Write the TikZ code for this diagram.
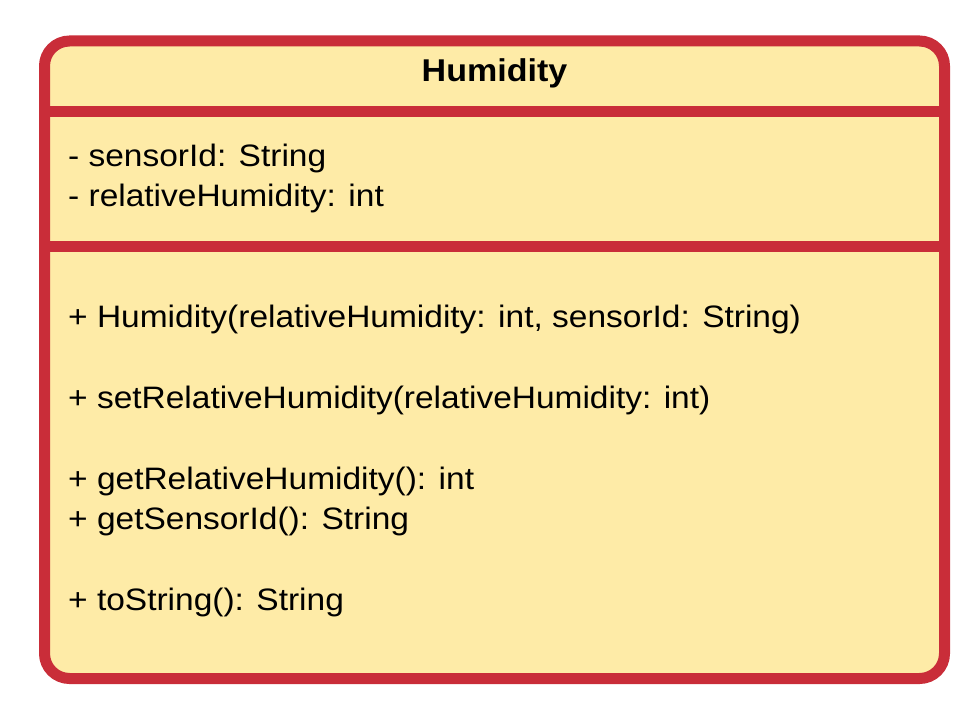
\documentclass[tikz,border=0pt]{standalone}
\usepackage{fontspec}
\setmainfont{Liberation Sans}[FakeStretch=1.08]
\definecolor{umlred}{HTML}{C92D39}
\definecolor{umlfill}{HTML}{FEEBA7}
\tikzset{
    classbox/.style={draw=umlred, fill=umlfill, line width=11pt,
        rounded corners=25pt},
    divider/.style={draw=umlred, line width=11pt},
    member/.style={anchor=base west, inner sep=0pt,
        font=\fontsize{31}{36}\selectfont},
    classname/.style={anchor=base, inner sep=0pt,
        font=\fontsize{31.5}{36}\selectfont\bfseries},
}
\begin{document}
\begin{tikzpicture}[x=1pt, y=-1pt]
    \useasboundingbox (0, 0) rectangle (977, 711);

    % class frame
    \draw[classbox] (44.5, 41) rectangle (944.5, 678.5);
    \coordinate (hl) at (44.5, 112);
    \coordinate (hr) at (944.5, 112);
    \coordinate (al) at (44.5, 247);
    \coordinate (ar) at (944.5, 247);
    \draw[divider] (hl) -- (hr);
    \draw[divider] (al) -- (ar);

    % name
    \node[classname] (name) at (494.5, 81.5) {Humidity};

    % attributes
    \foreach \n/\y/\txt in {attrA/167/{- sensorId: String},
                            attrB/207/{- relativeHumidity: int}} {
        \node[member] (\n) at (68, \y) {\txt};
    }

    % operations
    \foreach \n/\y/\txt in {
            opA/327/{+ Humidity(relativeHumidity: int, sensorId: String)},
            opB/408/{+ setRelativeHumidity(relativeHumidity: int)},
            opC/489/{+ getRelativeHumidity(): int},
            opD/529.5/{+ getSensorId(): String},
            opE/610/{+ toString(): String}} {
        \node[member] (\n) at (68, \y) {\txt};
    }
\end{tikzpicture}
\end{document}
